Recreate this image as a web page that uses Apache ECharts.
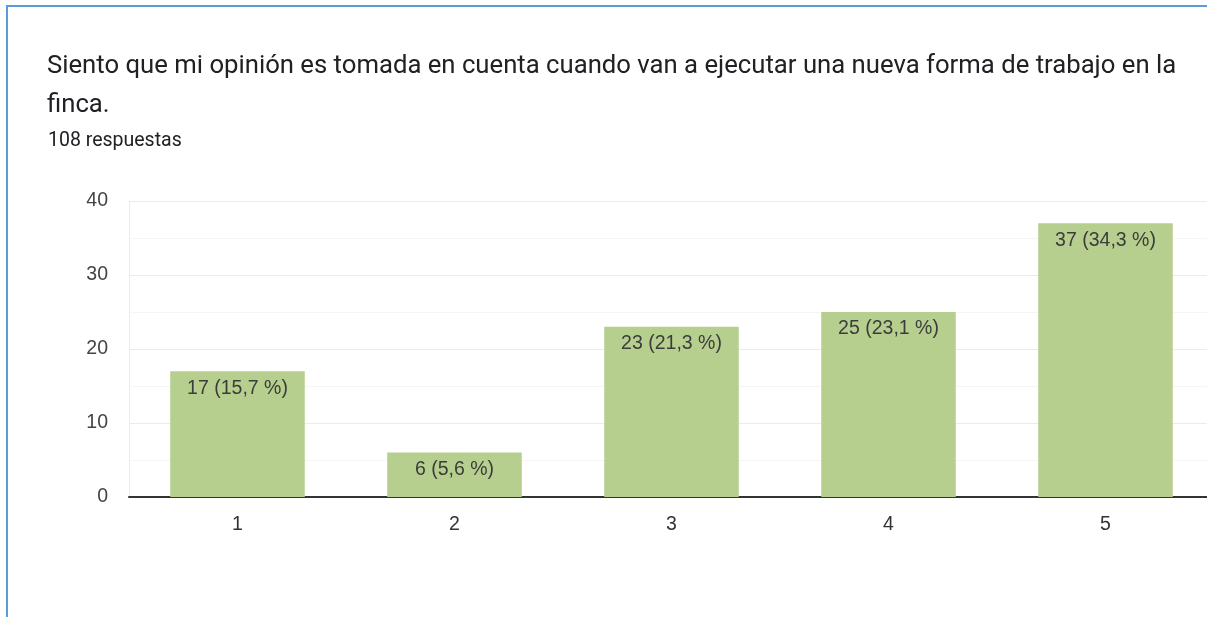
<!DOCTYPE html>
<html>
<head>
<meta charset="utf-8">
<script src="https://cdn.jsdelivr.net/npm/echarts@6/dist/echarts.min.js"></script>
<style>
  html, body { margin: 0; padding: 0; background: #ffffff; }
  #frame {
    position: absolute; left: 6px; top: 5px; right: 0; bottom: 0;
    border-left: 2px solid #5b9bd8; border-top: 2px solid #5b9bd8;
  }
  #chart { position: absolute; left: 0; top: 0; width: 1207px; height: 617px; }
</style>
</head>
<body>
<div id="frame"></div>
<div id="chart"></div>
<script>
// Survey question and response totals
const questionTitle = 'Siento que mi opinión es tomada en cuenta cuando van a ejecutar una nueva forma de trabajo en la\nfinca.';
const responseCount = 108;
const categories = ['1', '2', '3', '4', '5'];
const counts = [17, 6, 23, 25, 37];
const yTicks = [0, 10, 20, 30, 40];

const chart = echarts.init(document.getElementById('chart'), null, { renderer: 'canvas' });

function pctLabel(v) {
  return (v / responseCount * 100).toFixed(1).replace('.', ',') + ' %';
}

const labelFont = 'Arial, "Liberation Sans", sans-serif';

chart.setOption({
  animation: false,
  title: [
    {
      text: questionTitle,
      left: 47, top: 47, padding: 0,
      textStyle: { fontFamily: 'Roboto', fontSize: 25.7, fontWeight: 'normal', color: '#202124', lineHeight: 39 }
    },
    {
      text: responseCount + ' respuestas',
      left: 48, top: 131, padding: 0,
      textStyle: { fontFamily: 'Roboto', fontSize: 19.5, fontWeight: 'normal', color: '#202124' }
    }
  ],
  // the plot runs a little past the right edge of the page
  grid: { left: 129, width: 1085, top: 201, bottom: 120, containLabel: false, outerBoundsMode: 'none' },
  xAxis: {
    type: 'category',
    data: categories,
    axisLine: { show: true, lineStyle: { color: '#333333', width: 2 } },
    axisTick: { show: false },
    axisLabel: { margin: 18, fontFamily: labelFont, fontSize: 19.5, color: '#333333' },
    splitLine: { show: false }
  },
  yAxis: {
    type: 'value',
    min: yTicks[0], max: yTicks[yTicks.length - 1], interval: 10,
    axisLine: { show: true, lineStyle: { color: '#ebebeb', width: 1 } },
    axisTick: { show: false },
    axisLabel: { margin: 21, fontFamily: labelFont, fontSize: 19.5, color: '#444444' },
    splitLine: { show: true, lineStyle: { color: '#ebebeb', width: 1 } },
    minorTick: { show: false, splitNumber: 2 },
    minorSplitLine: { show: true, lineStyle: { color: '#f5f5f5', width: 1 } }
  },
  series: [{
    type: 'bar',
    data: counts,
    barCategoryGap: '38%',
    itemStyle: { color: '#b6cf8e' },
    label: {
      show: true,
      position: 'insideTop',
      distance: 7,
      fontFamily: labelFont,
      fontSize: 19.5,
      color: '#3c3c3c',
      formatter: p => p.value + ' (' + pctLabel(p.value) + ')'
    }
  }]
});
</script>
</body>
</html>
